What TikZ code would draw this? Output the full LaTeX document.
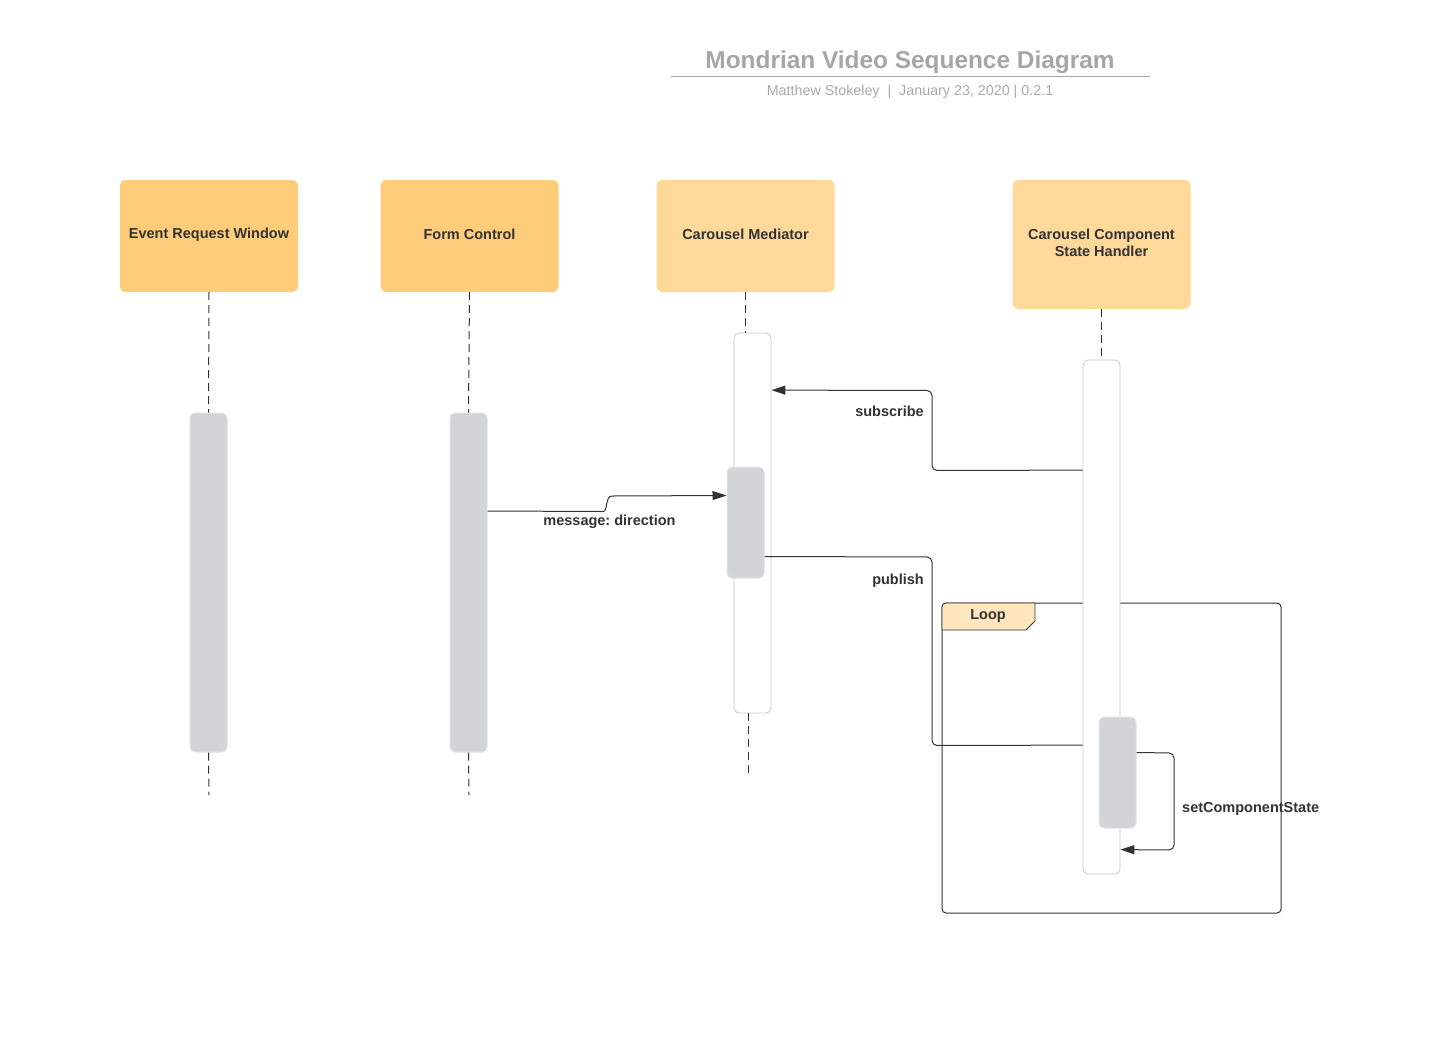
\documentclass[tikz,border=0pt]{standalone}
\usepackage{fontspec}
\setmainfont{Liberation Sans}
\frenchspacing
\usetikzlibrary{arrows.meta,calc}
\definecolor{boxA}{HTML}{FFCC79}
\definecolor{boxB}{HTML}{FFD99A}
\definecolor{actgray}{HTML}{D3D4D6}
\definecolor{actline}{HTML}{E2E3E5}
\definecolor{whiteline}{HTML}{C8C8C8}
\definecolor{ink}{HTML}{333333}
\definecolor{titlegray}{HTML}{A6A6A6}
\definecolor{subgray}{HTML}{A9A9A9}
\definecolor{looptab}{HTML}{FFE6BE}
\tikzset{
  lifebox/.style={rectangle, rounded corners=6pt, minimum width=178pt, inner sep=0pt,
    font=\fontsize{14.5}{17.5}\selectfont\bfseries, text=ink, align=center},
  actgrey/.style={rectangle, rounded corners=5pt, minimum width=37pt, inner sep=0pt,
    fill=actgray, draw=actline, line width=1pt},
  actwhite/.style={rectangle, rounded corners=5pt, minimum width=37pt, inner sep=0pt,
    fill=white, draw=whiteline, line width=0.8pt},
  lifeline/.style={draw=ink, line width=1pt, dash pattern=on 8pt off 5pt},
  msg/.style={draw=ink, line width=1pt, rounded corners=5pt},
  msgarrow/.style={msg, -{Triangle[length=14pt,width=9pt]}},
  msglabel/.style={font=\fontsize{14.5}{17.5}\selectfont\bfseries, text=ink, inner sep=0pt},
  headtext/.style={msglabel, align=center},
}
\begin{document}
\begin{tikzpicture}[x=1pt,y=-1pt]
\useasboundingbox (0,0) rectangle (1445,1047);
\fill[white] (0,0) rectangle (1445,1047);

% title
\node[font=\fontsize{24.4}{28}\selectfont\bfseries, text=titlegray, inner sep=0pt] (title) at (910,62) {Mondrian Video Sequence Diagram};
\coordinate (ulL) at (671,76.5);
\coordinate (ulR) at (1150,76.5);
\draw[titlegray, line width=1.8pt] (ulL) -- (ulR);
\node[font=\fontsize{14.3}{17}\selectfont, text=subgray, inner sep=0pt] (sub) at (910,92) {Matthew Stokeley~~|~~January 23, 2020 | 0.2.1};

% lifeline heads
\node[lifebox, fill=boxA, minimum height=112pt] (e) at (209,236) {};
\node[headtext] (et) at (209,234.5) {Event Request Window};
\node[lifebox, fill=boxA, minimum height=112pt] (f) at (469.5,236) {};
\node[headtext] (ft) at (469.5,234.5) {Form Control};
\node[lifebox, fill=boxB, minimum height=112pt] (m) at (745.5,236) {};
\node[headtext] (mt) at (745.5,234.5) {Carousel Mediator};
\node[lifebox, fill=boxB, minimum height=129pt] (h) at (1101.5,244.5) {};
\node[headtext] (ht) at (1101.5,243) {Carousel Component\\State Handler};

% loop frame
\draw[ink, line width=1pt, rounded corners=4pt] (942,603) rectangle (1281,913);
\draw[ink, line width=0.8pt, fill=looptab] (942,630) -- (942,608) [rounded corners=4pt] -- (942,603) [sharp corners] -- (1035,603) -- (1035,621) -- (1026,630) -- cycle;
\node[msglabel] (loop) at (988,616) {Loop};

% activations
\node[actgrey, minimum height=339pt] (a1) at (208.5,582.5) {};
\node[actgrey, minimum height=339pt] (a2) at (468.5,582.5) {};
\node[actwhite, minimum height=380pt] (mw) at (752.5,523) {};
\node[actgrey, minimum height=111pt] (mg) at (745.5,522.5) {};
\node[actwhite, minimum height=514pt] (hw) at (1101.5,617) {};
\node[actgrey, minimum height=111pt] (hg) at (1117.5,772.5) {};

% lifelines
\coordinate (e_end) at (209,795);
\coordinate (f_end) at (469,795);
\coordinate (m_end) at (748,775);
\draw[lifeline] (e.south) -- (a1.north);
\draw[lifeline] (a1.south) -- (e_end);
\draw[lifeline] (f.south) -- (a2.north);
\draw[lifeline] (a2.south) -- (f_end);
\draw[lifeline] (m.south) -- (m.south |- mw.north);
\draw[lifeline] (m_end |- mw.south) -- (m_end);
\draw[lifeline] (h.south) -- (h.south |- hw.north);

% message: direction
\draw[draw=ink, line width=1pt, -{Triangle[length=14pt,width=9pt]}]
  ($(a2.north east)+(0,98.5)$) -- (603,511.5) .. controls (608,511.5) and (605,496) .. (612,496) -- ($(mg.north west)+(0,29)$);
\node[msglabel] (lblmsg) at (609.5,522) {message: direction};

% subscribe
\draw[msgarrow] ($(hw.north west)+(0,110.5)$) -- (932,470.5) -- (932,390.5) -- ($(mw.north east)+(0,57.5)$);
\node[msglabel, anchor=east] (lblsub) at (924,411) {subscribe};

% publish
\draw[msg] ($(mg.north east)+(0,90)$) -- (932,557) -- (932,745.5) -- ($(hw.north west)+(0,385.5)$);
\node[msglabel, anchor=east] (lblpub) at (924,581) {publish};

% setComponentState
\draw[msgarrow] ($(hg.north east)+(0,36)$) -- (1174,753) -- (1174,850) -- ($(hw.north east)+(0,490)$);
\node[msglabel, anchor=west] (lblset) at (1182,809) {setComponentState};
\end{tikzpicture}
\end{document}
